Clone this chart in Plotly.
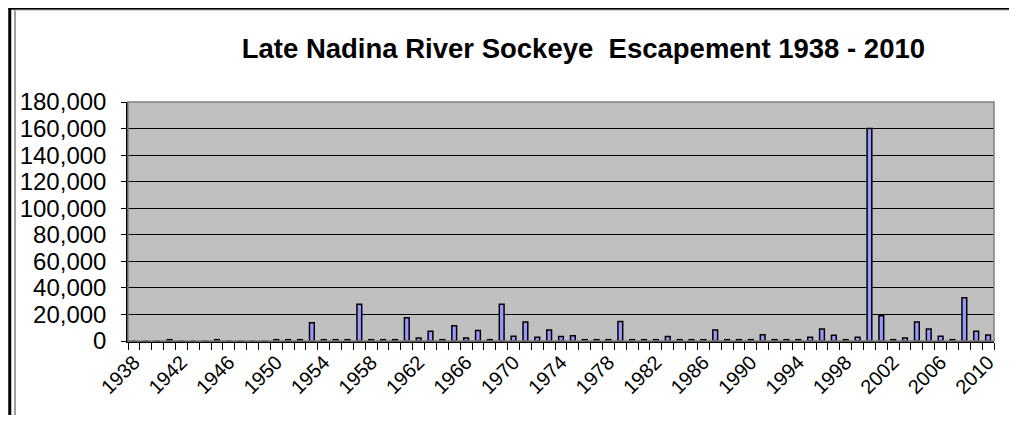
import plotly.graph_objects as go

years = list(range(1938, 2011))
escapement = [
    0, 0, 0, 1000, 0, 0, 0, 1000, 0, 0,          # 1938-1947
    0, 0, 1000, 1000, 1000, 13800, 1000, 1000, 1000, 27600,  # 1948-1957
    1000, 1000, 1000, 17600, 2300, 7300, 1000, 11500, 2300, 8000,  # 1958-1967
    1000, 27600, 3500, 14300, 2900, 8300, 3300, 4000, 1000, 1000,  # 1968-1977
    1000, 14600, 1000, 1000, 1000, 3300, 1000, 1000, 1000, 8300,  # 1978-1987
    1000, 1000, 1000, 4800, 1000, 1000, 1000, 2800, 9000, 4300,  # 1988-1997
    1000, 2800, 160000, 19000, 1000, 2300, 14300, 9000, 3500, 1000,  # 1998-2007
    32600, 7300, 4500,  # 2008-2010
]
tick_years = list(range(1938, 2011, 4))
tick_labels = [str(y) for y in tick_years]
title_text = "<b>Late Nadina River Sockeye  Escapement 1938 - 2010</b>"

# page body has an 8px margin; figure coordinates are window coordinates minus 8
W, H = 1001, 407
L, R, T, B = 120, 990, 94, 333

fig = go.Figure()
fig.add_trace(go.Bar(
    x=years, y=escapement, width=0.4,
    marker=dict(color="#9999FF", line=dict(color="black", width=1.5)),
))

def px_x(p):
    return (p - L) / (R - L)

def px_y(p):
    return (B - p) / (B - T)

shapes = [
    dict(type="rect", xref="paper", yref="paper", x0=0, x1=1, y0=0, y1=1,
         line=dict(color="#808080", width=1.5), fillcolor="rgba(0,0,0,0)", layer="above"),
    dict(type="line", xref="paper", yref="paper", x0=px_x(1.2), x1=px_x(1.2), y0=px_y(0), y1=px_y(420),
         line=dict(color="black", width=3)),
    dict(type="line", xref="paper", yref="paper", x0=px_x(0), x1=px_x(1010), y0=px_y(0.5), y1=px_y(0.5),
         line=dict(color="black", width=2.5)),
    dict(type="line", xref="paper", yref="paper", x0=px_x(6.5), x1=px_x(6.5), y0=px_y(2), y1=px_y(420),
         line=dict(color="#808080", width=1.5)),
    dict(type="line", xref="paper", yref="paper", x0=px_x(6.5), x1=px_x(1010), y0=px_y(2.3), y1=px_y(2.3),
         line=dict(color="#C8C8C8", width=1)),
]

fig.update_layout(
    width=W, height=H,
    margin=dict(l=L, r=W - R, t=T, b=H - B, pad=0),
    paper_bgcolor="white", plot_bgcolor="#C0C0C0",
    showlegend=False,
    font=dict(family="Liberation Sans, Arial, sans-serif", color="black"),
    title=dict(text=title_text, x=px_x(577.5), xref="paper", xanchor="center",
               y=1 - 40 / H, yanchor="middle",
               font=dict(size=27.5, color="black", family="Liberation Sans, Arial, sans-serif")),
    shapes=shapes,
)
fig.update_xaxes(
    range=[1937.5, 2010.5], tickmode="array", tickvals=tick_years, ticktext=tick_labels,
    tickangle=-45, ticks="", showgrid=False, zeroline=False,
    showline=True, linecolor="black", linewidth=1.5,
    tickfont=dict(size=20, color="black"),
    minor=dict(ticks="outside", ticklen=7, tickcolor="black", tickwidth=1,
               tick0=1937.5, dtick=1, showgrid=False),
)
fig.update_yaxes(
    range=[0, 180000], dtick=20000, tickformat=",",
    showgrid=True, gridcolor="black", gridwidth=1, zeroline=False,
    showline=True, linecolor="black", linewidth=1.5,
    ticks="outside", ticklen=5, tickcolor="black",
    ticklabelstandoff=10,
    tickfont=dict(size=24, color="black"),
)
fig.write_html("out.html")
